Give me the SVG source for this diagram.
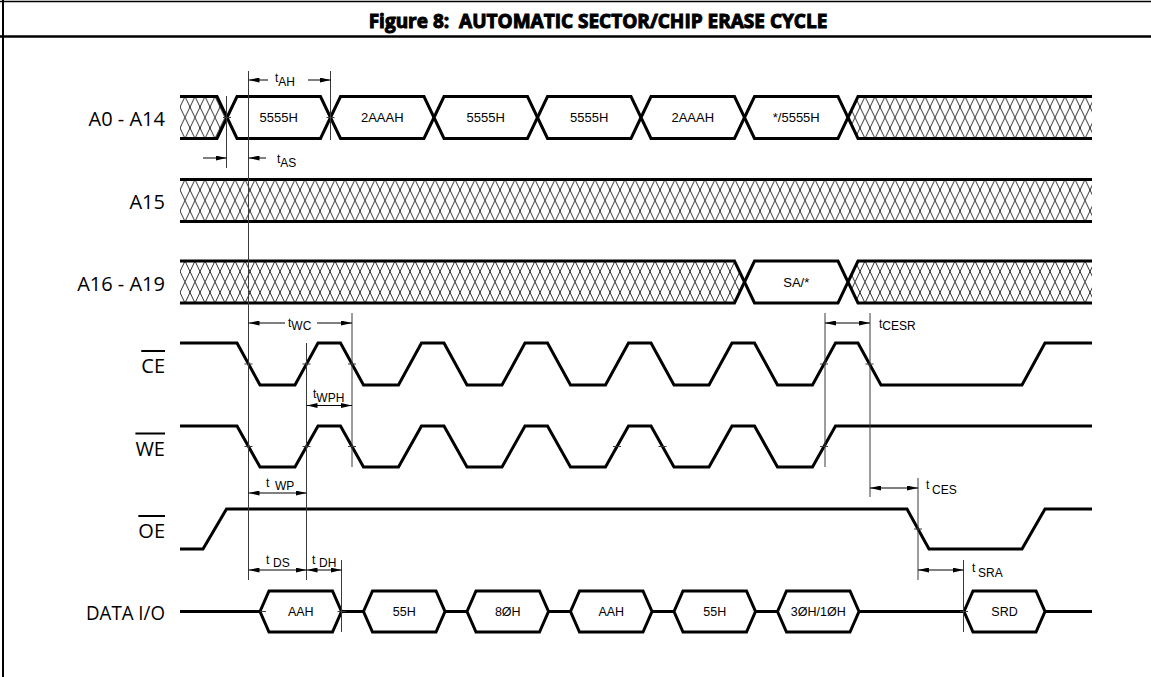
<svg xmlns="http://www.w3.org/2000/svg" width="1151" height="677" viewBox="0 0 1151 677">
<style>
.frame{stroke:#000;fill:none}
.bus{fill:none;stroke:#000;stroke-width:3}
.hex{fill:#fff;stroke:#000;stroke-width:3}
.wave{fill:none;stroke:#000;stroke-width:3}
.v{stroke:#3a3a3a;stroke-width:1;fill:none}
.tick{stroke:#3a3a3a;stroke-width:1}
.dim{stroke:#000;stroke-width:1;fill:none;marker-end:url(#ar)}
.dim2{stroke:#000;stroke-width:1;fill:none;marker-start:url(#ar);marker-end:url(#ar)}
.lbl{font-family:"Open Sans","Liberation Sans",sans-serif;font-size:20px;fill:#000;text-anchor:end}
.ol{text-decoration:overline}
.val{font-family:"Liberation Sans",Arial,sans-serif;font-size:13px;fill:#000;text-anchor:middle}
.dval{font-family:"Liberation Sans",Arial,sans-serif;font-size:12.5px;fill:#000;text-anchor:middle}
.tl{font-family:"Liberation Sans",Arial,sans-serif;font-size:12px;fill:#000}
.title{font-family:"Open Sans","Liberation Sans",sans-serif;font-size:19px;font-weight:bold;fill:#000;text-anchor:middle}
</style>
<defs>
<pattern id="hA" patternUnits="userSpaceOnUse" x="175" y="96.5" width="10" height="21"><path d="M-10,-21 L20,42 M20,-21 L-10,42" stroke="#000" stroke-width="0.8" fill="none"/></pattern>
<pattern id="hB" patternUnits="userSpaceOnUse" x="175" y="179.5" width="10" height="21"><path d="M-10,-21 L20,42 M20,-21 L-10,42" stroke="#000" stroke-width="0.8" fill="none"/></pattern>
<pattern id="hC" patternUnits="userSpaceOnUse" x="175" y="261" width="10" height="21"><path d="M-10,-21 L20,42 M20,-21 L-10,42" stroke="#000" stroke-width="0.8" fill="none"/></pattern>
<marker id="ar" viewBox="0 0 11 5" refX="11" refY="2.5" markerWidth="11" markerHeight="5" markerUnits="userSpaceOnUse" orient="auto-start-reverse"><path d="M0,0 L11,2.5 L0,5 z" fill="#000"/></marker>
</defs>

<g id="frame" class="frame">
<path d="M0,1.5 H1151" stroke-width="1.5"/>
<path d="M0,36.5 H1151" stroke-width="2.5"/>
<path d="M3,0 V677" stroke-width="2"/>
<text class="title" x="598" y="28" xml:space="preserve">Figure 8:  AUTOMATIC SECTOR/CHIP ERASE CYCLE</text>
</g>

<g id="sig-a0-a14">
<text class="lbl" x="165" y="126">A0 - A14</text>
<polygon points="180,96.5 217,96.5 227,117.5 217,138.5 180,138.5" fill="url(#hA)"/>
<path class="bus" d="M180,96.5 H217 L227,117.5 L217,138.5 H180"/>
<polygon class="hex" points="227,117.5 237,96.5 320.5,96.5 330.5,117.5 320.5,138.5 237,138.5"/>
<polygon class="hex" points="330.5,117.5 340.5,96.5 424,96.5 434,117.5 424,138.5 340.5,138.5"/>
<polygon class="hex" points="434,117.5 444,96.5 527.5,96.5 537.5,117.5 527.5,138.5 444,138.5"/>
<polygon class="hex" points="537.5,117.5 547.5,96.5 631,96.5 641,117.5 631,138.5 547.5,138.5"/>
<polygon class="hex" points="641,117.5 651,96.5 734.5,96.5 744.5,117.5 734.5,138.5 651,138.5"/>
<polygon class="hex" points="744.5,117.5 754.5,96.5 838,96.5 848,117.5 838,138.5 754.5,138.5"/>
<polygon points="848,117.5 858,96.5 1092,96.5 1092,138.5 858,138.5" fill="url(#hA)"/>
<path class="bus" d="M1092,96.5 H858 L848,117.5 L858,138.5 H1092"/>
<text class="val" x="278.75" y="122">5555H</text>
<text class="val" x="382.25" y="122">2AAAH</text>
<text class="val" x="485.75" y="122">5555H</text>
<text class="val" x="589.25" y="122">5555H</text>
<text class="val" x="692.75" y="122">2AAAH</text>
<text class="val" x="796.25" y="122">*/5555H</text>
</g>

<g id="sig-a15">
<text class="lbl" x="165" y="209">A15</text>
<rect x="180" y="179.5" width="912" height="42" fill="url(#hB)"/>
<path class="bus" d="M180,179.5 H1092 M180,221.5 H1092"/>
</g>

<g id="sig-a16-a19">
<text class="lbl" x="165" y="291">A16 - A19</text>
<polygon points="180,261 734.5,261 744.5,282 734.5,303 180,303" fill="url(#hC)"/>
<path class="bus" d="M180,261 H734.5 L744.5,282 L734.5,303 H180"/>
<polygon class="hex" points="744.5,282 754.5,261 838,261 848,282 838,303 754.5,303"/>
<polygon points="848,282 858,261 1092,261 1092,303 858,303" fill="url(#hC)"/>
<path class="bus" d="M1092,261 H858 L848,282 L858,303 H1092"/>
<text class="val" x="796.25" y="286.5">SA/*</text>
</g>

<g id="sig-ce">
<text class="lbl ol" x="165" y="373">CE</text>
<path class="wave" d="M180,343 H237 L260,385 H295 L318,343 H340.5 L363.5,385 H398.5 L421.5,343 H444 L467,385 H502 L525,343 H547.5 L570.5,385 H605.5 L628.5,343 H651 L674,385 H709 L732,343 H754.5 L777.5,385 H812.5 L835.5,343 H858 L881,385 H1022 L1045,343 H1092"/>
</g>

<g id="sig-we">
<text class="lbl ol" x="165" y="455.5">WE</text>
<path class="wave" d="M180,426 H237 L260,467 H295 L318,426 H340.5 L363.5,467 H398.5 L421.5,426 H444 L467,467 H502 L525,426 H547.5 L570.5,467 H605.5 L628.5,426 H651 L674,467 H709 L732,426 H754.5 L777.5,467 H812.5 L835.5,426 H1092"/>
</g>

<g id="sig-oe">
<text class="lbl ol" x="165" y="538">OE</text>
<path class="wave" d="M180,549 H203 L226.5,509 H907 L929,549 H1022 L1045,509 H1092"/>
</g>

<g id="sig-data">
<text class="lbl" x="165" y="620" textLength="79" lengthAdjust="spacingAndGlyphs">DATA I/O</text>
<path class="wave" d="M180,611.5 H260 M341.5,611.5 H363.5 M445,611.5 H467 M548.5,611.5 H570.5 M652,611.5 H674 M755.5,611.5 H777.5 M859,611.5 H964 M1045,611.5 H1092"/>
<polygon class="hex" points="260,611.5 269,591 332.5,591 341.5,611.5 332.5,632 269,632"/>
<polygon class="hex" points="363.5,611.5 372.5,591 436,591 445,611.5 436,632 372.5,632"/>
<polygon class="hex" points="467,611.5 476,591 539.5,591 548.5,611.5 539.5,632 476,632"/>
<polygon class="hex" points="570.5,611.5 579.5,591 643,591 652,611.5 643,632 579.5,632"/>
<polygon class="hex" points="674,611.5 683,591 746.5,591 755.5,611.5 746.5,632 683,632"/>
<polygon class="hex" points="777.5,611.5 786.5,591 850,591 859,611.5 850,632 786.5,632"/>
<polygon class="hex" points="964,611.5 973,591 1036,591 1045,611.5 1036,632 973,632"/>
<text class="dval" x="300.75" y="616">AAH</text>
<text class="dval" x="404.25" y="616">55H</text>
<text class="dval" x="507.75" y="616">8ØH</text>
<text class="dval" x="611.25" y="616">AAH</text>
<text class="dval" x="714.75" y="616">55H</text>
<text class="dval" x="818.25" y="616">3ØH/1ØH</text>
<text class="dval" x="1004.5" y="616">SRD</text>
</g>

<g id="connectors">
<g id="ref-lines" class="v">
<path d="M248.5,71 V580"/>
<path d="M330.5,71 V140"/>
<path d="M226.5,96 V168"/>
<path d="M306.5,343 V580"/>
<path d="M352,313 V467"/>
<path d="M341.5,560 V632"/>
<path d="M825,313 V467"/>
<path d="M870,313 V497"/>
<path d="M918,478 V580"/>
<path d="M963.5,560 V632"/>
</g>
<g id="ticks" class="tick">
<path d="M223,117.5 H231 M326.5,117.5 H334.5"/>
<path d="M244.5,364 H252.5 M302.5,364 H310.5 M348,364 H356 M820,364 H828 M865.5,364 H873.5"/>
<path d="M244.5,446.5 H252.5 M302.5,446.5 H310.5 M348,446.5 H356 M613,446.5 H621 M658.5,446.5 H666.5 M820,446.5 H828"/>
<path d="M914,529 H922"/>
<path d="M260,611.5 H266 M337.5,611.5 H345.5 M960,611.5 H968"/>
</g>
<g id="t-ah">
<path class="dim" d="M268,80 H248.5"/>
<path class="dim" d="M308,80 H330.5"/>
<text class="tl" x="275" y="82">t<tspan dy="4">AH</tspan></text>
</g>
<g id="t-as">
<path class="dim" d="M203,158 H226.5"/>
<path class="dim" d="M266,158 H248.5"/>
<text class="tl" x="277" y="163">t<tspan dy="4">AS</tspan></text>
</g>
<g id="t-wc">
<path class="dim" d="M285,323 H248.5"/>
<path class="dim" d="M317,323 H352"/>
<text class="tl" x="288" y="327">t<tspan dy="3">WC</tspan></text>
</g>
<g id="t-wph">
<path class="dim2" d="M306.5,405.5 H352"/>
<text class="tl" x="313" y="398">t<tspan dy="4">WPH</tspan></text>
</g>
<g id="t-wp">
<path class="dim2" d="M248.5,493 H306.5"/>
<text class="tl" x="266" y="487">t<tspan x="275" dy="3">WP</tspan></text>
</g>
<g id="t-ds">
<path class="dim2" d="M248.5,570 H306.5"/>
<text class="tl" x="266" y="564">t<tspan x="273" dy="3">DS</tspan></text>
</g>
<g id="t-dh">
<path class="dim2" d="M306.5,570 H341.5"/>
<text class="tl" x="312" y="564">t<tspan x="319" dy="3">DH</tspan></text>
</g>
<g id="t-cesr">
<path class="dim2" d="M825,323 H870"/>
<text class="tl" x="879" y="328">t<tspan dy="2">CESR</tspan></text>
</g>
<g id="t-ces">
<path class="dim2" d="M870,488 H918"/>
<text class="tl" x="926" y="489">t<tspan x="932" dy="5">CES</tspan></text>
</g>
<g id="t-sra">
<path class="dim2" d="M918,570 H963.5"/>
<text class="tl" x="972" y="572">t<tspan x="978" dy="5">SRA</tspan></text>
</g>
</g>
</svg>
